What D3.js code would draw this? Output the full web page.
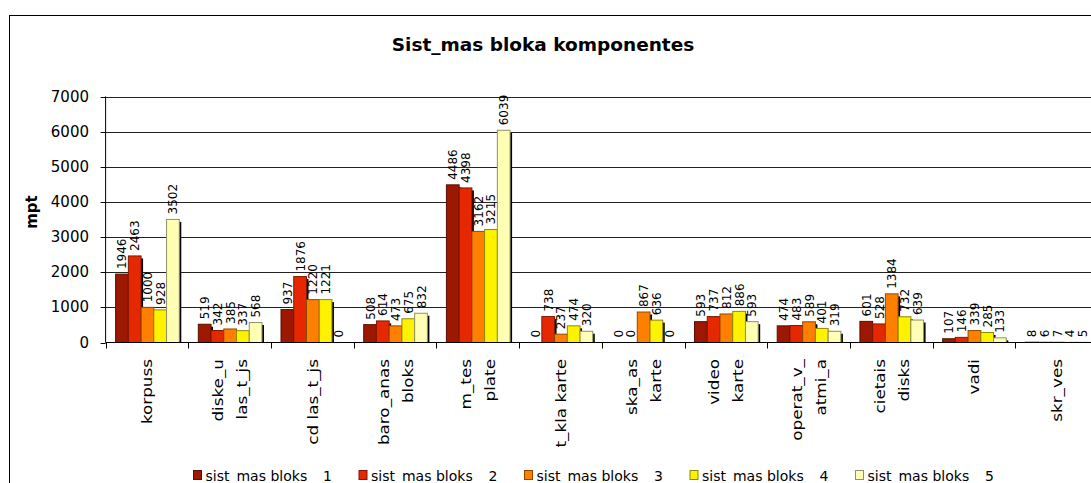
<!DOCTYPE html>
<html lang="lv">
<head>
<meta charset="utf-8">
<title>Sist_mas bloka komponentes</title>
<script src="https://d3js.org/d3.v7.min.js"></script>
<style>
  body { margin: 0; background: #fff; }
  text { font-family: "DejaVu Sans", Verdana, sans-serif; fill: #000; }
</style>
</head>
<body>
<script>
// data
const categories = [
  ["korpuss"], ["diske_u", "las_t_js"], ["cd las_t_js"], ["baro_anas", "bloks"],
  ["m_tes", "plate"], ["t_kla karte"], ["ska_as", "karte"], ["video", "karte"],
  ["operat_v_", "atmi_a"], ["cietais", "disks"], ["vadi"], ["skr_ves"]
];
const seriesNames = ["sist_mas bloks _ 1", "sist_mas bloks _ 2", "sist_mas bloks _ 3", "sist_mas bloks _ 4", "sist_mas bloks _ 5"];
const bloks1 = [1946, 519, 937, 508, 4486, 0, 0, 593, 474, 601, 107, 8];
const bloks2 = [2463, 342, 1876, 614, 4398, 738, 0, 737, 483, 528, 146, 6];
const bloks3 = [1000, 385, 1220, 473, 3162, 237, 867, 812, 589, 1384, 339, 7];
const bloks4 = [928, 337, 1221, 675, 3215, 474, 636, 886, 401, 732, 285, 4];
const bloks5 = [3502, 568, 0, 832, 6039, 320, 0, 593, 319, 639, 133, 5];
const yTicks = [0, 1000, 2000, 3000, 4000, 5000, 6000, 7000];

const series = [bloks1, bloks2, bloks3, bloks4, bloks5];
const colors = ["#9c1800", "#e52800", "#ff7f00", "#fff200", "#ffffb3"];

const W = 1091, H = 483;
const plotLeft = 105.6, step = 82.7, plotTop = 96.5, plotBottom = 342.5;

const svg = d3.select("body").append("svg")
  .attr("width", W).attr("height", H);

// outer frame (runs past right and bottom)
svg.append("rect")
  .attr("x", 9.5).attr("y", 15.5)
  .attr("width", 1200).attr("height", 600)
  .attr("fill", "none").attr("stroke", "#000").attr("stroke-width", 1);

const x = d3.scaleBand()
  .domain(d3.range(categories.length))
  .range([plotLeft, plotLeft + step * categories.length])
  .paddingInner(0.23).paddingOuter(0.115);
const xs = d3.scaleBand().domain(d3.range(5)).range([0, x.bandwidth()]);
const y = d3.scaleLinear().domain([0, 7000]).range([plotBottom, plotTop]);

// grid
svg.append("g").selectAll("line").data(yTicks.slice(1)).join("line")
  .attr("x1", plotLeft).attr("x2", W)
  .attr("y1", d => Math.round(y(d)) + 0.5).attr("y2", d => Math.round(y(d)) + 0.5)
  .attr("stroke", "#222");

// bars
const groups = svg.append("g").selectAll("g").data(categories).join("g")
  .attr("transform", (d, i) => `translate(${x(i)},0)`);

groups.each(function(c, i) {
  const g = d3.select(this);
  const vals = series.map(s => s[i]);
  // shadows
  g.selectAll("rect.sh").data(vals).join("rect").attr("class", "sh")
    .attr("x", (v, k) => xs(k) + 2.5)
    .attr("y", v => y(v) + 2.5)
    .attr("width", xs.bandwidth())
    .attr("height", v => Math.max(0, y(0) - y(v) - 2.5))
    .attr("fill", "#000");
  g.selectAll("rect.bar").data(vals).join("rect").attr("class", "bar")
    .attr("x", (v, k) => xs(k) + 0.5)
    .attr("y", v => y(v))
    .attr("width", xs.bandwidth())
    .attr("height", v => y(0) - y(v))
    .attr("fill", (v, k) => colors[k])
    .attr("stroke", (v, k) => d3.color(colors[k]).darker(1.6))
    .attr("stroke-width", 1);
  g.selectAll("text.val").data(vals).join("text").attr("class", "val")
    .attr("transform", (v, k) => `translate(${xs(k) + xs.bandwidth() / 2 + 1},${y(v) - 5}) rotate(-90)`)
    .attr("dominant-baseline", "central")
    .attr("font-size", 12)
    .text(v => v);
});

// axes
const yAxis = svg.append("g");
yAxis.append("line").attr("x1", plotLeft).attr("x2", plotLeft)
  .attr("y1", plotTop).attr("y2", plotBottom).attr("stroke", "#000");
yAxis.selectAll("line.t").data(yTicks).join("line").attr("class", "t")
  .attr("x1", plotLeft - 5).attr("x2", plotLeft)
  .attr("y1", d => Math.round(y(d)) + 0.5).attr("y2", d => Math.round(y(d)) + 0.5)
  .attr("stroke", "#000");
yAxis.selectAll("text").data(yTicks).join("text")
  .attr("x", 89).attr("y", d => y(d))
  .attr("text-anchor", "end").attr("dominant-baseline", "central")
  .attr("font-size", 15)
  .text(d => d);

const xAxis = svg.append("g");
xAxis.append("line").attr("x1", plotLeft).attr("x2", W)
  .attr("y1", plotBottom).attr("y2", plotBottom).attr("stroke", "#000");
xAxis.selectAll("line.t").data(d3.range(categories.length + 1)).join("line").attr("class", "t")
  .attr("x1", i => Math.round(plotLeft + i * step) + 0.5).attr("x2", i => Math.round(plotLeft + i * step) + 0.5)
  .attr("y1", plotBottom).attr("y2", plotBottom + 6)
  .attr("stroke", "#000");

// category labels
categories.forEach((lines, i) => {
  const cx = x(i) + x.bandwidth() / 2 + 1;
  lines.forEach((ln, j) => {
    const off = (j - (lines.length - 1) / 2) * 24;
    svg.append("text")
      .attr("transform", `translate(${cx + off},359) rotate(-90) scale(1.2,1)`)
      .attr("text-anchor", "end").attr("dominant-baseline", "central")
      .attr("font-size", 14)
      .text(ln);
  });
});

// title and axis title
svg.append("text").attr("x", 543).attr("y", 51)
  .attr("text-anchor", "middle").attr("font-weight", "bold").attr("font-size", 18.5)
  .text("Sist_mas bloka komponentes");
svg.append("text")
  .attr("transform", "translate(32,212) rotate(-90)")
  .attr("text-anchor", "middle").attr("dominant-baseline", "central")
  .attr("font-weight", "bold").attr("font-size", 15)
  .text("mpt");

// legend
const leg = svg.append("g").selectAll("g").data(seriesNames).join("g")
  .attr("transform", (d, k) => `translate(${193.5 + k * 165.5},470.5)`);
leg.append("rect").attr("width", 8).attr("height", 9)
  .attr("fill", (d, k) => colors[k])
  .attr("stroke", (d, k) => d3.color(colors[k]).darker(1.6));
leg.append("text").attr("x", 12).attr("y", 10)
  .attr("font-size", 14)
  .text(d => d);
</script>
</body>
</html>
